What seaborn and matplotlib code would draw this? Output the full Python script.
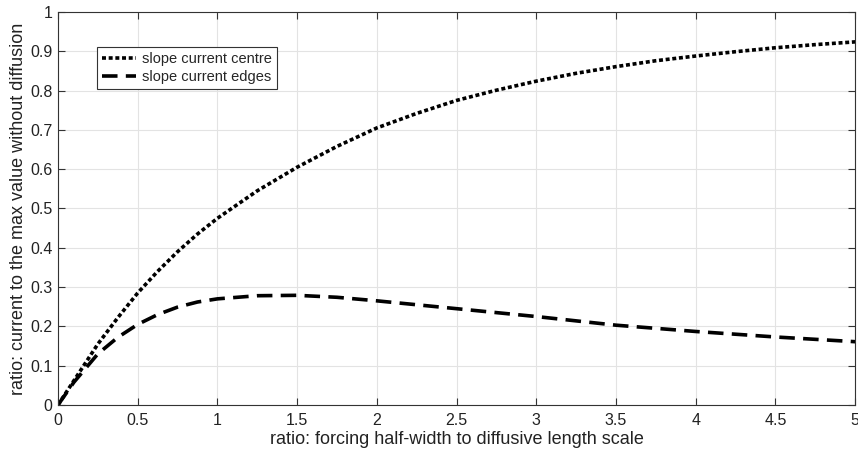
import numpy as np
import pandas as pd
import seaborn as sns
import matplotlib.pyplot as plt

# values
x = [0, 0.1, 0.25, 0.375, 0.5, 0.625, 0.75, 0.875, 1.0, 1.25, 1.5, 1.75, 2.0,
     2.25, 2.5, 2.75, 3.0, 3.25, 3.5, 3.75, 4.0, 4.25, 4.5, 4.75, 5.0]
centre = [0, 0.062, 0.155, 0.222, 0.285, 0.340, 0.390, 0.435, 0.475, 0.545, 0.605,
          0.658, 0.705, 0.742, 0.775, 0.801, 0.824, 0.844, 0.861, 0.876, 0.888,
          0.899, 0.909, 0.917, 0.924]
edges = [0, 0.058, 0.130, 0.172, 0.205, 0.230, 0.249, 0.262, 0.270, 0.278, 0.279,
         0.274, 0.265, 0.255, 0.245, 0.235, 0.225, 0.214, 0.203, 0.195, 0.187,
         0.180, 0.173, 0.167, 0.161]

data = pd.DataFrame({"x": x, "centre": centre, "edges": edges})

sns.set_theme(style="whitegrid")
plt.rcParams['font.family'] = ['Liberation Sans', 'DejaVu Sans']

fig = plt.figure(figsize=(8.58, 4.55), dpi=100)
ax = fig.add_axes([0.0676, 0.11, 0.929, 0.8636])

sns.lineplot(data=data, x="x", y="centre", ax=ax, color="black",
             linewidth=2.6, label="slope current centre")
sns.lineplot(data=data, x="x", y="edges", ax=ax, color="black",
             linewidth=2.6, label="slope current edges")
ax.lines[0].set_dashes((1.1, 0.75))
ax.lines[1].set_dashes((4.3, 2.3))

ax.set_xlim(0, 5)
ax.set_ylim(0, 1)
ax.set_xticks(np.arange(0, 5.01, 0.5))
ax.set_xticklabels(["0", "0.5", "1", "1.5", "2", "2.5", "3", "3.5", "4", "4.5", "5"])
ax.set_yticks(np.arange(0, 1.01, 0.1))
ax.set_yticklabels(["0", "0.1", "0.2", "0.3", "0.4", "0.5", "0.6", "0.7", "0.8", "0.9", "1"])

ax.grid(True, color="#e3e3e3", linewidth=0.8)
for s in ax.spines.values():
    s.set_visible(True)
    s.set_color("#333333")
    s.set_linewidth(0.8)
ax.tick_params(axis="both", direction="in", length=5, width=0.8, color="#333333",
               labelsize=11.5, labelcolor="#222222", top=True, right=True,
               bottom=True, left=True)
ax.tick_params(axis="x", pad=6)
ax.tick_params(axis="y", pad=4)

ax.set_xlabel("ratio: forcing half-width to diffusive length scale", fontsize=13,
              color="#222222", labelpad=2)
ax.set_ylabel("ratio: current to the max value without diffusion", fontsize=13,
              color="#222222", labelpad=2)

leg = ax.legend(loc="upper left", bbox_to_anchor=(0.049, 0.912), fontsize=10.5,
                frameon=True, fancybox=False, framealpha=1, handlelength=2.3,
                borderpad=0.35, labelspacing=0.3, handletextpad=0.4,
                borderaxespad=0)
leg.get_frame().set_edgecolor("#333333")
leg.get_frame().set_linewidth(0.8)

fig.savefig("out.png", dpi=100)
